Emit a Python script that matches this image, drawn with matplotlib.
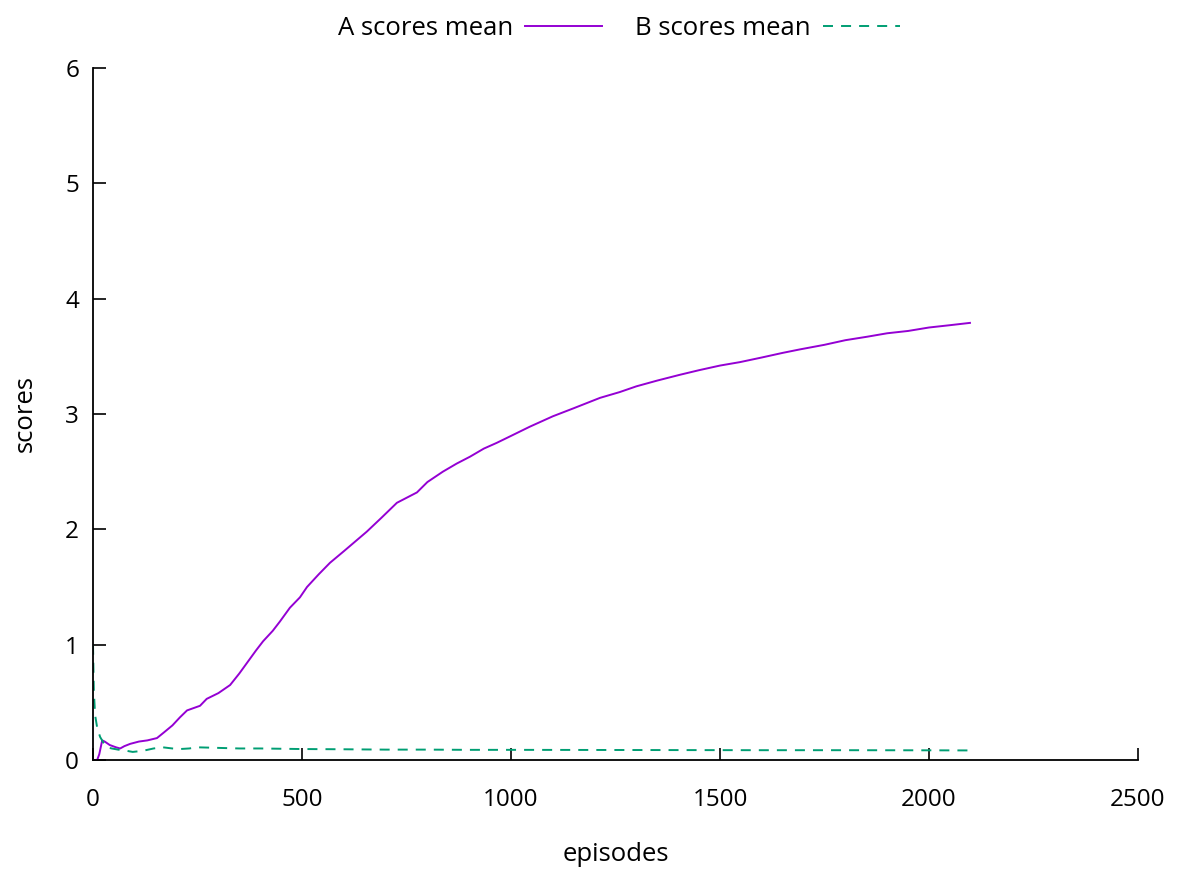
import matplotlib
matplotlib.use("Agg")
import matplotlib.pyplot as plt

plt.rcParams['font.family'] = ['Open Sans', 'DejaVu Sans']
plt.rcParams['lines.scale_dashes'] = False

# Data
a_episodes = [0, 10, 15, 22, 28, 40, 55, 65, 75, 89, 110, 130, 153, 170, 190, 208, 225,
              256, 272, 300, 328, 350, 368, 390, 407, 430, 447, 471, 495, 512, 540, 567,
              600, 655, 690, 727, 775, 800, 837, 870, 902, 935, 966, 1000, 1045, 1100,
              1150, 1213, 1260, 1300, 1350, 1404, 1450, 1500, 1548, 1600, 1650, 1691,
              1750, 1800, 1852, 1900, 1950, 2000, 2050, 2098]
a_scores = [0.0, 0.0, 0.05, 0.17, 0.16, 0.13, 0.11, 0.10, 0.12, 0.14, 0.16, 0.17, 0.19,
            0.24, 0.30, 0.37, 0.43, 0.47, 0.53, 0.58, 0.65, 0.75, 0.84, 0.95, 1.03, 1.12,
            1.20, 1.32, 1.41, 1.50, 1.61, 1.71, 1.81, 1.98, 2.10, 2.23, 2.32, 2.41, 2.50,
            2.57, 2.63, 2.70, 2.75, 2.81, 2.89, 2.98, 3.05, 3.14, 3.19, 3.24, 3.29, 3.34,
            3.38, 3.42, 3.45, 3.49, 3.53, 3.56, 3.60, 3.64, 3.67, 3.70, 3.72, 3.75, 3.77,
            3.79]

b_episodes = [0, 2, 5, 10, 17, 25, 33, 45, 60, 80, 95, 120, 145, 167, 190, 208, 230, 250,
              300, 350, 400, 500, 600, 700, 800, 900, 1000, 1200, 1400, 1600, 1800, 2000,
              2098]
b_scores = [1.0, 0.6, 0.39, 0.28, 0.20, 0.15, 0.11, 0.10, 0.09, 0.08, 0.07, 0.08, 0.10,
            0.11, 0.10, 0.095, 0.10, 0.11, 0.105, 0.10, 0.10, 0.095, 0.093, 0.09, 0.09,
            0.088, 0.088, 0.087, 0.086, 0.085, 0.085, 0.084, 0.083]

x_ticks = [0, 500, 1000, 1500, 2000, 2500]
y_ticks = [0, 1, 2, 3, 4, 5, 6]

fig = plt.figure(figsize=(11.81, 8.75), dpi=100)
ax = fig.add_axes([93 / 1181, 115 / 875, (1138 - 93) / 1181, (760 - 68) / 875])

ax.plot(a_episodes, a_scores, color='#9400d3', lw=1.4, label='A scores mean')
ax.plot(b_episodes, b_scores, color='#009e73', lw=1.4, dashes=(7.2, 5.8),
        label='B scores mean')

ax.set_xlim(0, 2500)
ax.set_ylim(0, 6)
ax.set_xticks(x_ticks)
ax.set_yticks(y_ticks)
ax.tick_params(direction='in', length=9, width=1.2, labelsize=17.5, pad=10)
ax.tick_params(axis='x', pad=20)
ax.spines['top'].set_visible(False)
ax.spines['right'].set_visible(False)
for s in ('left', 'bottom'):
    ax.spines[s].set_linewidth(1.3)

ax.set_xlabel('episodes', fontsize=18.5, labelpad=22)
ax.set_ylabel('scores', fontsize=18.5, labelpad=20)

fig.legend(loc='center', bbox_to_anchor=(0.524, 0.967), ncol=2, frameon=False,
           markerfirst=False, fontsize=18.5, handlelength=3.0, handletextpad=0.47,
           columnspacing=1.3)

fig.savefig('out.png', dpi=100)
